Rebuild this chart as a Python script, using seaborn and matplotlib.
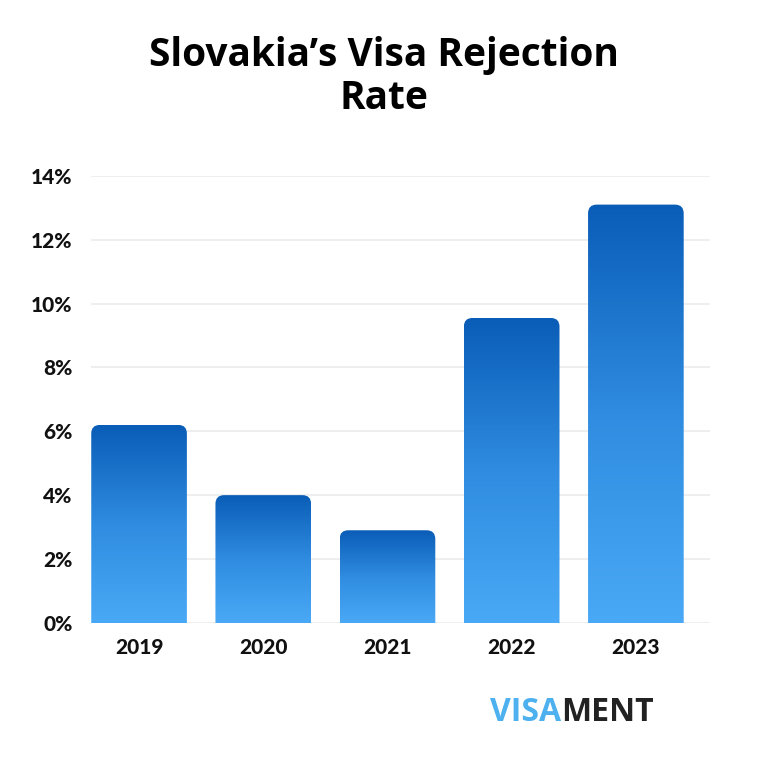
import numpy as np
import pandas as pd
import matplotlib
matplotlib.use("Agg")
import matplotlib.pyplot as plt
import seaborn as sns
from matplotlib.patches import FancyBboxPatch
from matplotlib.colors import LinearSegmentedColormap

years = ["2019", "2020", "2021", "2022", "2023"]
rejection_rate = [6.2, 4.0, 2.9, 9.55, 13.1]
y_ticks = [0, 2, 4, 6, 8, 10, 12, 14]
y_tick_labels = ["0%", "2%", "4%", "6%", "8%", "10%", "12%", "14%"]

df = pd.DataFrame({"Year": years, "Rate": rejection_rate})

sns.set_style("white")
plt.rcParams["font.family"] = ["Lato", "DejaVu Sans"]

fig = plt.figure(figsize=(7.68, 7.68), dpi=100)
ax = fig.add_axes([0.118, 0.189, 0.807, 0.582])

sns.barplot(data=df, x="Year", y="Rate", ax=ax, width=0.77, color="#1f77d0")

cmap = LinearSegmentedColormap.from_list("bluegrad", ["#4aa9f6", "#2f8ce0", "#0a5db7"])
grad = np.linspace(0, 1, 256).reshape(-1, 1)

ax.set_xlim(-0.39, 4.6)
ax.set_ylim(0, 14)

# aspect between data units in y and x (for round corners)
aspect = (1 / 31.93) / (1 / 124.25)
for patch in list(ax.patches):
    x0 = patch.get_x()
    w = patch.get_width()
    h = patch.get_height()
    patch.set_visible(False)
    clip = FancyBboxPatch((x0, -1), w, h + 1,
                          boxstyle="round,pad=0,rounding_size=0.07",
                          mutation_aspect=aspect,
                          transform=ax.transData, facecolor="none", edgecolor="none")
    ax.add_patch(clip)
    im = ax.imshow(grad, cmap=cmap, origin="lower", aspect="auto",
                   extent=(x0, x0 + w, 0, h), zorder=2)
    im.set_clip_path(clip)

ax.set_xlim(-0.39, 4.6)
ax.set_ylim(0, 14)
ax.set_yticks(y_ticks)
ax.set_yticklabels(y_tick_labels)
ax.yaxis.grid(True, color="#ebebeb", linewidth=1.2)
ax.set_axisbelow(True)
ax.tick_params(axis="both", length=0, labelsize=15, colors="#111111")
ax.tick_params(axis="x", pad=11)
ax.tick_params(axis="y", pad=13)
for lab in ax.get_xticklabels() + ax.get_yticklabels():
    lab.set_fontweight("black")
ax.set_xlabel("")
ax.set_ylabel("")
sns.despine(ax=ax, left=True, bottom=True)

fig.text(0.5, 0.9, "Slovakia’s Visa Rejection\nRate", ha="center", va="center",
         fontsize=28, fontweight="bold", color="#000000", linespacing=1.15,
         family=["Open Sans", "DejaVu Sans"])

visa = fig.text(0.638, 0.072, "VISA", ha="left", va="center", fontsize=23,
                fontweight="bold", color="#4db0ef", family=["Open Sans", "DejaVu Sans"])
fig.canvas.draw()
bb = visa.get_window_extent(renderer=fig.canvas.get_renderer())
fig.text(bb.x1 / fig.bbox.width, 0.072, "MENT", ha="left", va="center", fontsize=23,
         fontweight="bold", color="#222222", family=["Open Sans", "DejaVu Sans"])

fig.savefig("out.png", dpi=100, facecolor="white")
